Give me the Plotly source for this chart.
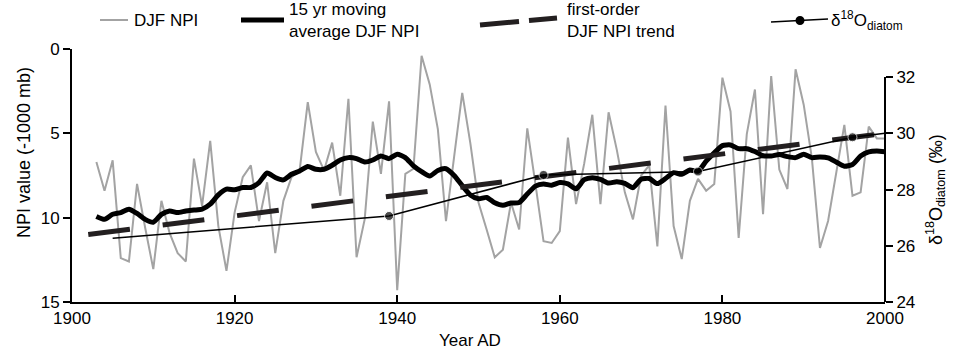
import plotly.graph_objects as go

# Winter (DJF) North Pacific Index, yearly values (NPI - 1000 mb)
npi_years = list(range(1903, 2001))
npi_values = [
    6.7, 8.4, 6.6, 12.4, 12.6, 8.0, 10.6, 13.05, 9.0, 10.9,        # 1903-1912
    12.1, 12.6, 6.5, 9.3, 5.45, 10.5, 13.15, 9.7, 7.6, 6.9,        # 1913-1922
    10.2, 7.9, 12.1, 9.0, 7.6, 7.2, 3.15, 6.1, 7.2, 5.55,          # 1923-1932
    8.7, 2.95, 12.35, 10.1, 4.3, 7.4, 3.1, 14.3, 7.4, 7.1,         # 1933-1942
    0.4, 2.1, 4.75, 10.2, 6.4, 2.6, 5.6, 9.1, 10.7, 12.35,         # 1943-1952
    11.9, 9.1, 10.7, 4.7, 8.0, 11.4, 11.5, 10.8, 5.25, 9.2,        # 1953-1962
    6.8, 3.9, 9.2, 3.75, 5.95, 8.5, 10.1, 7.5, 6.9, 11.7,          # 1963-1972
    3.35, 10.5, 12.45, 9.0, 7.7, 8.4, 8.0, 1.7, 3.7, 11.2,         # 1973-1982
    5.05, 2.4, 9.8, 1.6, 7.15, 8.3, 1.2, 3.3, 6.45, 11.8,          # 1983-1992
    10.2, 7.4, 4.5, 8.7, 8.5, 4.6, 5.3, 5.3,                       # 1993-2000
]

# 15 yr moving average of the DJF NPI
ma_years = list(range(1903, 2001))
ma_values = [
    9.93, 10.1, 9.8, 9.7, 9.5, 9.75, 10.1, 10.27, 9.8, 9.6,        # 1903-1912
    9.7, 9.6, 9.55, 9.5, 9.2, 8.65, 8.31, 8.35, 8.21, 8.21,        # 1913-1922
    7.92, 7.35, 7.62, 7.76, 7.43, 7.23, 6.97, 7.13, 7.13, 6.89,    # 1923-1932
    6.58, 6.44, 6.5, 6.7, 6.58, 6.34, 6.5, 6.24, 6.44, 6.93,       # 1933-1942
    7.27, 7.53, 7.2, 7.1, 7.5, 8.1, 8.65, 8.88, 8.8, 9.12,         # 1943-1952
    9.27, 9.13, 9.1, 8.6, 8.13, 8.0, 8.08, 7.92, 8.0, 8.29,        # 1953-1962
    7.75, 7.63, 7.73, 7.95, 7.87, 7.97, 8.22, 7.72, 7.68, 7.98,    # 1963-1972
    7.68, 7.33, 7.43, 7.17, 7.25, 6.65, 6.16, 5.73, 5.69, 5.91,    # 1973-1982
    5.91, 6.08, 6.33, 6.34, 6.26, 6.38, 6.44, 6.24, 6.44, 6.4,     # 1983-1992
    6.45, 6.7, 6.95, 6.85, 6.35, 6.1, 6.05, 6.1,                   # 1993-2000
]

# First-order (linear) DJF NPI trend, end points
trend_years = [1902, 2000]
trend_values = [11.0, 5.0]

# Diatom oxygen isotope record (per mil)
d18o_years = [1905, 1939, 1958, 1977, 1996, 2000]
d18o_values = [26.27, 27.06, 28.52, 28.64, 29.86, 30.0]
d18o_sampled = [False, True, True, True, True, False]

x_ticks = [1900, 1920, 1940, 1960, 1980, 2000]
npi_ticks = [0, 5, 10, 15]
d18o_ticks = [24, 26, 28, 30, 32]

FONT = "Liberation Sans, Arial, sans-serif"
FS = 17
W, H = 956, 351
L, R, T, B = 72, 71, 49, 49
GRAY = "#a3a3a3"
TREND = "#231f20"


def px(x):
    return (x - L) / (W - L - R)


def py(y):
    return (H - B - y) / (H - T - B)


fig = go.Figure()

fig.add_trace(go.Scatter(
    x=npi_years, y=npi_values, mode="lines",
    line=dict(color=GRAY, width=2), yaxis="y", showlegend=False,
))
fig.add_trace(go.Scatter(
    x=ma_years, y=ma_values, mode="lines",
    line=dict(color="black", width=5, shape="spline", smoothing=0.6),
    yaxis="y", showlegend=False,
))
fig.add_trace(go.Scatter(
    x=trend_years, y=trend_values, mode="lines",
    line=dict(color=TREND, width=5, dash="42px,33px"),
    yaxis="y", showlegend=False,
))
fig.add_trace(go.Scatter(
    x=d18o_years, y=d18o_values, mode="lines+markers",
    line=dict(color="black", width=1.5),
    marker=dict(color="black", size=[9 if s else 0 for s in d18o_sampled]),
    yaxis="y2", showlegend=False,
))

axis_common = dict(
    showgrid=False, zeroline=False, showline=True, linecolor="black",
    linewidth=2, tickcolor="black", tickwidth=2, ticklen=7,
    tickfont=dict(family=FONT, size=FS, color="black"),
)

fig.update_layout(
    width=W, height=H,
    margin=dict(l=L, r=R, t=T, b=B),
    paper_bgcolor="white", plot_bgcolor="white",
    font=dict(family=FONT, size=FS, color="black"),
    showlegend=False,
    xaxis=dict(range=[1900, 2000], tickvals=x_ticks, ticks="inside", **axis_common),
    yaxis=dict(range=[15, 0], tickvals=npi_ticks, ticks="outside", **axis_common),
    yaxis2=dict(
        range=[24, 33], tickvals=d18o_ticks, ticks="outside", overlaying="y",
        side="right", showgrid=False, zeroline=False, showline=False,
        tickcolor="black", tickwidth=2, ticklen=7,
        tickfont=dict(family=FONT, size=FS, color="black"),
    ),
)

shapes = [
    # right-hand axis spine, from the lowest to the highest tick
    dict(type="line", xref="paper", yref="y2", x0=1, x1=1,
         y0=d18o_ticks[0], y1=d18o_ticks[-1],
         line=dict(color="black", width=2)),
    # legend keys
    dict(type="line", xref="paper", yref="paper", x0=px(100), x1=px(128),
         y0=py(20), y1=py(20), line=dict(color=GRAY, width=2)),
    dict(type="line", xref="paper", yref="paper", x0=px(241), x1=px(284),
         y0=py(20), y1=py(20), line=dict(color="black", width=5)),
    dict(type="line", xref="paper", yref="paper", x0=px(480), x1=px(519),
         y0=py(25), y1=py(21.5), line=dict(color=TREND, width=5)),
    dict(type="line", xref="paper", yref="paper", x0=px(529), x1=px(557),
         y0=py(20.5), y1=py(18), line=dict(color=TREND, width=5)),
    dict(type="line", xref="paper", yref="paper", x0=px(771), x1=px(828),
         y0=py(22), y1=py(19), line=dict(color="black", width=1.5)),
    dict(type="circle", xref="paper", yref="paper",
         x0=px(795.5), x1=px(804.5), y0=py(16), y1=py(25),
         fillcolor="black", line=dict(color="black", width=0)),
]
fig.update_layout(shapes=shapes)


def note(text, x, y, xanchor="left", angle=0, size=FS):
    return dict(text=text, xref="paper", yref="paper", x=px(x), y=py(y),
                xanchor=xanchor, yanchor="middle", showarrow=False,
                textangle=angle, align="left",
                font=dict(family=FONT, size=size, color="black"))


annotations = [
    note("DJF NPI", 132, 20),
    note("15 yr moving<br>average DJF NPI", 287, 21),
    note("first-order<br>DJF NPI trend", 565, 21),
    note("δ<sup>18</sup>O<sub>diatom</sub>", 829, 21),
    note("NPI value (-1000 mb)", 24, 153, xanchor="center", angle=-90, size=18),
    note("δ<sup>18</sup>O<sub>diatom</sub> (‰)", 935, 190, xanchor="center", angle=-90, size=18),
    note("Year AD", 470, 340, xanchor="center"),
]
fig.update_layout(annotations=annotations)

fig.write_html("out.html")
